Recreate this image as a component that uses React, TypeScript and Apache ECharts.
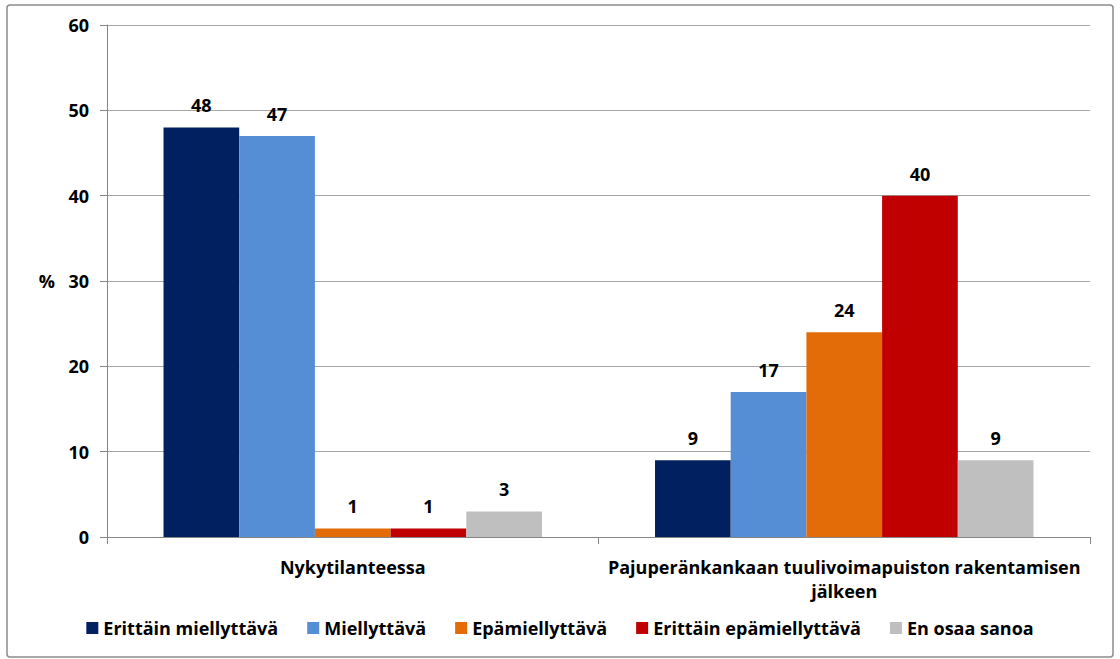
import React, { useEffect, useRef } from "react";
import * as echarts from "echarts";

const categories = [
  "Nykytilanteessa",
  "Pajuperänkankaan tuulivoimapuiston rakentamisen\njälkeen",
];
const seriesNames = [
  "Erittäin miellyttävä",
  "Miellyttävä",
  "Epämiellyttävä",
  "Erittäin epämiellyttävä",
  "En osaa sanoa",
];
const erittainMiellyttava = [48, 9];
const miellyttava = [47, 17];
const epamiellyttava = [1, 24];
const erittainEpamiellyttava = [1, 40];
const enOsaaSanoa = [3, 9];
const seriesValues = [
  erittainMiellyttava,
  miellyttava,
  epamiellyttava,
  erittainEpamiellyttava,
  enOsaaSanoa,
];
const seriesColors = ["#002060", "#558ED5", "#E36C09", "#C00000", "#BFBFBF"];
const yTicks = { min: 0, max: 60, interval: 10 };

const FONT = "'Open Sans', 'Noto Sans', sans-serif";
const FS = 18;

export default function App() {
  const ref = useRef<HTMLDivElement>(null);
  useEffect(() => {
    if (!ref.current) return;
    const chart = echarts.init(ref.current, null, { renderer: "svg" });
    chart.setOption({
      animation: false,
      backgroundColor: "#ffffff",
      textStyle: { fontFamily: FONT },
      graphic: [
        {
          type: "rect",
          shape: { x: 7, y: 5, width: 1106, height: 652, r: 3 },
          style: { fill: "none", stroke: "#8C8C8C", lineWidth: 1.5 },
          silent: true,
          z: -1,
        },
      ],
      grid: { left: 107, right: 30, top: 25, bottom: 122, containLabel: false },
      legend: {
        top: 614,
        left: "center",
        icon: "rect",
        itemWidth: 12,
        itemHeight: 12,
        itemGap: 29,
        textStyle: {
          fontFamily: FONT,
          fontSize: FS,
          fontWeight: "bold",
          color: "#000",
        },
        data: seriesNames,
      },
      xAxis: {
        type: "category",
        data: categories,
        axisLine: { lineStyle: { color: "#868686", width: 1 } },
        axisTick: { show: true, length: 7, lineStyle: { color: "#868686" } },
        axisLabel: {
          interval: 0,
          margin: 18,
          fontFamily: FONT,
          fontSize: FS,
          fontWeight: "bold",
          color: "#000",
          lineHeight: 24,
          align: "center",
        },
      },
      yAxis: {
        type: "value",
        min: yTicks.min,
        max: yTicks.max,
        interval: yTicks.interval,
        name: "%",
        nameLocation: "middle",
        nameRotate: 0,
        nameGap: 52,
        nameTextStyle: {
          fontFamily: FONT,
          fontSize: FS,
          fontWeight: "bold",
          color: "#000",
        },
        axisLine: { show: true, lineStyle: { color: "#868686", width: 1 } },
        axisTick: { show: true, length: 7, lineStyle: { color: "#868686" } },
        axisLabel: {
          margin: 18,
          fontFamily: FONT,
          fontSize: FS,
          fontWeight: "bold",
          color: "#000",
        },
        splitLine: { lineStyle: { color: "#A6A6A6", width: 1 } },
      },
      series: seriesNames.map((name, i) => ({
        name,
        type: "bar",
        data: seriesValues[i],
        barGap: "0%",
        barCategoryGap: "23%",
        itemStyle: { color: seriesColors[i] },
        label: {
          show: true,
          position: "top",
          distance: 13,
          fontFamily: FONT,
          fontSize: FS,
          fontWeight: "bold",
          color: "#000",
        },
      })),
    });
    return () => chart.dispose();
  }, []);
  return (
    <div
      ref={ref}
      style={{ position: "absolute", left: 0, top: 0, width: 1120, height: 659 }}
    />
  );
}
